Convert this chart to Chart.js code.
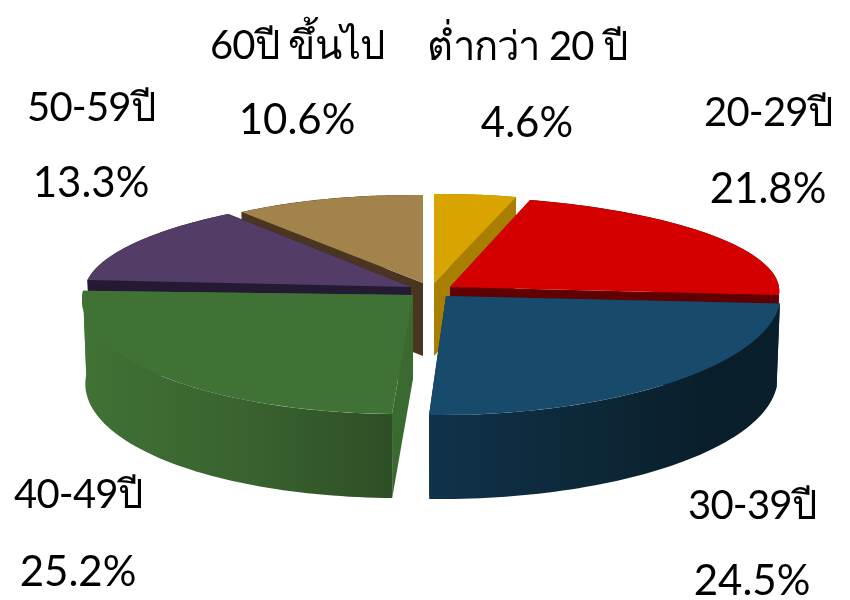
<!DOCTYPE html>
<html>
<head>
<meta charset="utf-8">
<style>
  html, body { margin: 0; padding: 0; background: #fff; }
  canvas { display: block; }
</style>
<script src="https://cdn.jsdelivr.net/npm/chart.js@4/dist/chart.umd.min.js"></script>
</head>
<body>
<canvas id="pie3d" width="850" height="600"></canvas>
<script>
// data
const categories = ['ต่ำกว่า 20 ปี', '20-29ปี', '30-39ปี', '40-49ปี', '50-59ปี', '60ปี ขึ้นไป'];
const shares = [4.6, 21.8, 24.5, 25.2, 13.3, 10.6];

const topColors = ['#d9a300', '#d40000', '#174a6b', '#417235', '#533c66', '#a3834c'];
const wallColors = ['#a87f00', '#600000', '#0d2a3d', '#3a6a30', '#241a33', '#4a3520'];

// where each wedge sits on the page: apex, tilt of the disc, wall height
const wedgeLayout = [
  { ax: 434, ay: 283, rx: 288, kx: 0, ky: -2.4, ry: 89, depth: 73 },
  { ax: 450, ay: 287, rx: 329, kx: 14.3, ky: 0, ry: 90.8, depth: 73 },
  { ax: 446, ay: 296, rx: 335, kx: 2, ky: -3, ry: 119, depth: 84 },
  { ax: 413, ay: 295, rx: 331, kx: -2.3, ky: -4, ry: 119, depth: 84 },
  { ax: 411, ay: 287, rx: 326, kx: -23.8, ky: 0.6, ry: 92.4, depth: 73 },
  { ax: 423, ay: 283, rx: 293.6, kx: 0, ky: 2.9, ry: 88, depth: 73 }
];
const drawOrder = [5, 0, 4, 1, 3, 2]; // back to front

// label centres, name baseline and value baseline
const labelLayout = [
  { x: 527, y1: 60, y2: 137 },
  { x: 768, y1: 126, y2: 203 },
  { x: 752, y1: 519, y2: 595 },
  { x: 78, y1: 508, y2: 586 },
  { x: 91, y1: 121, y2: 197 },
  { x: 297, y1: 59, y2: 134 }
];

function wallFill(ctx, i) {
  if (i === 2) {
    const g = ctx.createLinearGradient(429, 0, 780, 0);
    g.addColorStop(0, '#10324a');
    g.addColorStop(0.5, '#0c2736');
    g.addColorStop(0.8, '#091e2b');
    g.addColorStop(1, '#091f2c');
    return g;
  }
  if (i === 3) {
    const g = ctx.createLinearGradient(80, 0, 392, 0);
    g.addColorStop(0, '#417235');
    g.addColorStop(0.55, '#38622f');
    g.addColorStop(1, '#2e4f26');
    return g;
  }
  return wallColors[i];
}

const pie3d = {
  id: 'pie3d',
  beforeDatasetsDraw(chart) {
    const ctx = chart.ctx;
    const arcs = chart.getDatasetMeta(0).data;

    drawOrder.forEach(i => {
      const arc = arcs[i];
      const s = wedgeLayout[i];
      const R = arc.outerRadius;

      const point = (angle, down) => {
        const u = Math.cos(angle), v = Math.sin(angle);
        const x = s.rx * u + s.kx * v;
        const y = s.ky * u + s.ry * v;
        return down ? [s.ax + x * 0.99, s.ay + y + s.depth] : [s.ax + x, s.ay + y];
      };

      // radial faces
      ctx.fillStyle = wallColors[i];
      [arc.startAngle, arc.endAngle].forEach(angle => {
        const p = point(angle, false), q = point(angle, true);
        ctx.beginPath();
        ctx.moveTo(s.ax, s.ay);
        ctx.lineTo(p[0], p[1]);
        ctx.lineTo(q[0], q[1]);
        ctx.lineTo(s.ax, s.ay + s.depth);
        ctx.closePath();
        ctx.fill();
      });

      // outer face
      const steps = 60;
      const da = (arc.endAngle - arc.startAngle) / steps;
      ctx.fillStyle = wallFill(ctx, i);
      ctx.beginPath();
      for (let k = 0; k <= steps; k++) {
        const p = point(arc.startAngle + k * da, false);
        ctx.lineTo(p[0], p[1]);
      }
      for (let k = steps; k >= 0; k--) {
        const p = point(arc.startAngle + k * da, true);
        ctx.lineTo(p[0], p[1]);
      }
      ctx.closePath();
      ctx.fill();

      // top face, the library's own arc under a tilt
      const a = s.rx / R, c = s.kx / R, b = s.ky / R, d = s.ry / R;
      ctx.save();
      ctx.transform(a, b, c, d, s.ax - a * arc.x - c * arc.y, s.ay - b * arc.x - d * arc.y);
      arc.draw(ctx);
      ctx.restore();
    });

    return false;
  },
  afterDraw(chart) {
    const ctx = chart.ctx;
    ctx.save();
    ctx.fillStyle = '#000';
    ctx.textAlign = 'center';
    ctx.textBaseline = 'alphabetic';
    categories.forEach((name, i) => {
      const l = labelLayout[i];
      ctx.font = '40px Lato, "Noto Sans", "DejaVu Sans", sans-serif';
      ctx.letterSpacing = '-0.8px';
      ctx.fillText(name, l.x, l.y1);
      ctx.font = '42px Lato, "Noto Sans", "DejaVu Sans", sans-serif';
      ctx.letterSpacing = '0px';
      ctx.fillText(shares[i].toFixed(1) + '%', l.x, l.y2);
    });
    ctx.restore();
  }
};

new Chart(document.getElementById('pie3d'), {
  type: 'pie',
  data: {
    labels: categories,
    datasets: [{ data: shares, backgroundColor: topColors, borderWidth: 0 }]
  },
  options: {
    responsive: false,
    animation: false,
    devicePixelRatio: 1,
    plugins: { legend: { display: false }, tooltip: { enabled: false } }
  },
  plugins: [pie3d]
});
</script>
</body>
</html>
